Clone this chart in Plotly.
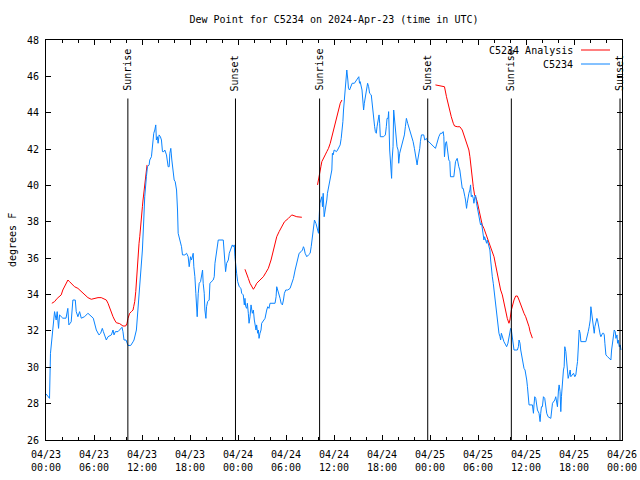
import datetime as dt
import plotly.graph_objects as go

# ---------------- data ----------------
START = "2024-04-23 00:00"

# C5234 observations: hours after START, dew point (deg F)
OBS_HOURS = [
    0.02, 0.44, 0.56, 0.73, 1.07, 1.27, 1.4, 1.57, 1.69, 2.1, 2.5, 2.73, 2.86, 3.15, 3.36, 3.66, 3.78, 3.99,
    4.2, 4.41, 4.82, 5.24, 5.66, 5.91, 6.29, 6.62, 6.83, 7.04, 7.17, 7.54, 7.75, 8.17, 8.38, 8.5, 8.67, 9.0,
    9.5, 9.62, 9.75, 10.0, 10.25, 10.59, 10.88, 11.0, 11.3, 11.51, 11.8, 12.05, 12.22, 12.34, 12.55, 12.68,
    12.89, 12.97, 13.18, 13.3, 13.47, 13.6, 13.72, 13.8, 13.93, 14.01, 14.14, 14.3, 14.43, 14.56, 14.73,
    14.85, 15.06, 15.27, 15.4, 15.48, 15.6, 15.73, 15.9, 16.02, 16.15, 16.32, 16.44, 16.52, 16.73, 16.94,
    17.06, 17.36, 17.57, 17.77, 17.9, 18.07, 18.19, 18.4, 18.48, 18.61, 18.73, 18.9, 19.03, 19.15, 19.32,
    19.44, 19.57, 19.65, 19.78, 19.86, 19.99, 20.07, 20.2, 20.4, 20.49, 20.9, 21.03, 21.12, 21.33, 21.53,
    22.16, 22.28, 22.37, 22.45, 22.58, 22.79, 22.91, 23.12, 23.29, 23.41, 23.53, 23.62, 23.7, 23.83, 23.96,
    24.16, 24.37, 24.46, 24.66, 24.79, 24.87, 24.96, 25.09, 25.17, 25.29, 25.38, 25.5, 25.63, 25.79, 25.92,
    26.04, 26.13, 26.25, 26.33, 26.46, 26.55, 26.63, 26.75, 26.88, 26.96, 27.17, 27.38, 27.59, 27.72, 27.88,
    28.0, 28.63, 28.76, 28.84, 28.97, 29.14, 29.26, 29.39, 29.55, 29.68, 29.8, 29.97, 30.22, 30.51, 30.72,
    30.93, 31.14, 31.35, 31.48, 31.64, 31.89, 32.06, 32.18, 32.27, 32.39, 32.6, 32.81, 33.02, 33.15, 33.31,
    33.43, 33.56, 33.75, 33.94, 34.06, 34.15, 34.23, 34.48, 34.56, 34.65, 34.77, 34.9, 34.98, 35.1, 35.18,
    35.31, 35.48, 35.6, 35.73, 35.8, 35.89, 36.02, 36.31, 36.44, 36.56, 36.77, 36.9, 37.02, 37.11, 37.19,
    37.32, 37.44, 37.52, 37.6, 37.73, 37.81, 37.94, 38.15, 38.27, 38.55, 38.85, 39.1, 39.19, 39.27, 39.5,
    39.58, 39.7, 39.79, 39.91, 40.04, 40.2, 40.33, 40.45, 40.66, 40.75, 40.88, 40.95, 41.08, 41.17, 41.29,
    41.38, 41.5, 41.63, 41.71, 41.79, 42.2, 42.42, 42.54, 42.63, 42.76, 42.83, 42.96, 43.05, 43.13, 43.2,
    43.26, 43.38, 43.46, 43.55, 43.67, 43.8, 43.88, 44.01, 44.09, 44.21, 44.3, 44.51, 44.63, 44.8, 44.92,
    45.05, 45.21, 45.34, 45.46, 45.55, 45.68, 45.8, 45.89, 46.05, 46.18, 46.3, 46.39, 46.47, 46.6, 46.72,
    46.8, 46.93, 47.22, 47.34, 47.56, 47.72, 47.84, 48.06, 48.27, 48.47, 48.68, 48.81, 48.97, 49.1, 49.31,
    49.52, 49.65, 49.73, 49.81, 49.94, 50.06, 50.23, 50.35, 50.48, 50.56, 50.98, 51.07, 51.19, 51.4, 51.49,
    51.6, 51.73, 51.82, 51.94, 52.03, 52.15, 52.23, 52.36, 52.44, 52.57, 52.65, 52.74, 52.86, 52.99, 53.07,
    53.16, 53.28, 53.41, 53.49, 53.61, 53.7, 53.82, 53.9, 53.99, 54.11, 54.24, 54.32, 54.45, 54.53, 54.66,
    54.74, 54.82, 54.95, 55.08, 55.16, 55.29, 55.37, 55.49, 55.58, 55.66, 55.79, 55.91, 56.0, 56.08, 56.2,
    56.33, 56.42, 56.5, 56.62, 56.75, 56.83, 56.92, 57.04, 57.24, 57.46, 57.58, 57.74, 57.87, 57.99, 58.08,
    58.17, 58.29, 58.42, 58.5, 58.92, 59.05, 59.13, 59.25, 59.34, 59.46, 59.59, 59.75, 59.88, 59.96, 60.09,
    60.18, 60.26, 60.38, 60.8, 60.93, 61.0, 61.09, 61.22, 61.34, 61.43, 61.63, 61.76, 61.84, 61.93, 62.05,
    62.18, 62.34, 62.47, 62.59, 62.76, 63.1, 63.31, 63.43, 63.6, 63.72, 63.85, 63.93, 64.06, 64.14, 64.26,
    64.35, 64.43, 64.56, 64.68, 64.77, 64.85, 64.98, 65.1, 65.19, 65.27, 65.39, 65.52, 65.6, 65.81, 65.94,
    66.1, 66.23, 66.35, 66.44, 66.52, 66.65, 66.77, 66.86, 67.48, 67.61, 67.69, 67.78, 67.9, 68.03, 68.11,
    68.2, 68.32, 68.45, 68.53, 68.61, 68.74, 68.86, 68.94, 69.03, 69.15, 69.28, 69.36, 69.57, 69.7, 69.78,
    69.86, 69.99, 70.2, 70.4, 70.61, 70.7, 70.82, 70.95, 71.03, 71.16, 71.24, 71.37, 71.45, 71.53, 71.66,
    71.78, 71.87,
]
OBS_VALUES = [
    28.53, 28.29, 30.77, 31.5, 33.06, 32.6, 33.06, 32.14, 32.88, 32.7, 32.7, 33.24, 32.33, 32.5, 33.7, 33.7, 33.06, 32.78,
    33.06, 32.7, 32.78, 32.97, 32.78, 32.7, 32.05, 31.78, 31.87, 32.14, 31.96, 31.5, 31.68, 31.78, 32.05, 31.78, 31.96, 31.96,
    32.2, 31.96, 31.5, 31.5, 31.2, 31.2, 31.4, 31.5, 32.05, 33.15, 34.8, 36.45, 38.1, 39.38, 40.48, 41.03,
    41.13, 41.4, 41.58, 42.32, 42.87, 43.05, 43.33, 42.5, 42.68, 42.32, 42.78, 42.68, 42.5, 41.86, 41.86,
    41.95, 41.68, 41.03, 41.03, 41.77, 42.04, 41.4, 40.85, 40.3, 40.21, 39.75, 38.65, 37.37, 37.0, 36.63,
    36.18, 36.18, 36.27, 36.08, 35.53, 36.08, 35.9, 36.27, 35.53, 34.98, 34.07, 32.78, 34.07, 34.62, 34.71,
    35.17, 35.35, 34.62, 34.07, 33.15, 32.69, 33.33, 33.61, 33.7, 34.62, 34.8, 34.98, 35.72, 36.27, 37.0,
    37.0, 36.27, 35.72, 35.26, 35.72, 35.9, 36.27, 36.54, 36.73, 36.63, 36.73, 36.08, 35.53, 35.17, 34.71,
    34.43, 34.34, 34.07, 33.98, 33.43, 33.79, 33.34, 33.24, 33.52, 32.97, 32.42, 32.78, 33.43, 32.97, 33.15,
    32.6, 32.23, 32.05, 32.33, 31.87, 32.05, 31.59, 31.87, 32.05, 32.42, 32.6, 32.69, 33.15, 33.33, 33.24,
    33.52, 33.52, 33.88, 34.43, 34.25, 33.88, 33.79, 33.52, 33.43, 33.7, 34.07, 34.25, 34.25, 34.34, 34.62,
    34.89, 35.35, 35.72, 36.08, 36.27, 36.36, 36.45, 36.63, 36.54, 36.27, 36.08, 36.18, 36.27, 36.63, 37.37,
    37.73, 38.1, 37.9, 37.55, 37.37, 38.28, 39.02, 39.38, 38.83, 39.57, 38.28, 38.65, 38.83, 39.2, 39.57,
    39.93, 40.39, 40.67, 40.85, 41.77, 41.68, 41.95, 41.86, 41.95, 42.04, 42.23, 42.59, 43.05, 43.51, 44.15,
    44.88, 45.43, 46.08, 46.35, 45.8, 45.34, 45.25, 45.43, 45.62, 45.62, 45.8, 45.98, 45.62, 45.71, 45.25,
    44.7, 44.15, 44.52, 44.88, 45.07, 45.62, 45.43, 45.07, 44.98, 44.52, 44.15, 43.6, 43.23, 42.96, 42.87,
    43.23, 43.69, 43.88, 43.42, 42.68, 42.68, 42.78, 43.23, 43.69, 43.69, 44.06, 41.95, 41.4, 40.94, 40.39,
    41.4, 42.13, 44.15, 43.69, 42.96, 42.5, 42.13, 41.95, 41.22, 41.77, 41.95, 42.23, 42.5, 42.78, 43.23,
    43.69, 43.42, 43.23, 42.96, 42.87, 42.59, 42.5, 42.41, 42.04, 41.58, 41.4, 41.13, 41.4, 41.68, 42.04,
    42.41, 42.78, 42.78, 42.5, 42.59, 42.41, 42.41, 42.32, 42.23, 42.13, 42.04, 42.23, 42.59, 42.68, 42.87,
    42.87, 42.96, 42.68, 41.58, 42.32, 42.41, 41.95, 41.4, 41.31, 40.48, 40.48, 41.03, 41.31, 41.49, 41.22,
    41.03, 40.85, 40.48, 40.12, 39.84, 39.84, 39.57, 39.38, 39.2, 38.74, 39.02, 39.38, 39.57, 39.75, 40.03,
    39.38, 39.47, 39.29, 39.02, 39.38, 39.47, 39.02, 38.83, 38.56, 38.28, 38.1, 37.83, 37.92, 37.55, 37.18,
    37.0, 37.18, 36.91, 36.82, 37.0, 36.73, 36.54, 36.45, 35.9, 35.35, 34.98, 34.62, 34.25, 33.88, 33.52,
    32.78, 32.42, 32.05, 31.87, 31.68, 31.5, 31.87, 31.68, 31.41, 31.23, 31.13, 31.32, 31.68, 31.87, 32.14,
    32.05, 31.59, 31.32, 30.95, 30.95, 31.13, 31.5, 31.32, 30.95, 30.58, 30.22, 29.94, 29.85, 29.48, 29.3,
    28.93, 28.38, 27.93, 27.93, 27.47, 27.93, 28.38, 28.29, 28.02, 27.65, 27.47, 27.01, 27.47, 27.83, 27.83,
    28.38, 28.29, 27.83, 27.47, 27.28, 27.19, 28.02, 28.11, 28.2, 28.38, 28.11, 27.83, 28.75, 29.03, 28.66,
    27.56, 28.38, 29.3, 29.85, 30.03, 31.13, 30.86, 30.22, 29.67, 29.39, 29.58, 29.85, 29.48, 29.58, 29.67,
    29.48, 29.58, 30.03, 30.31, 30.95, 32.05, 31.87, 31.41, 31.41, 31.59, 31.78, 31.96, 32.23, 32.6, 33.33,
    32.97, 32.42, 32.23, 31.87, 32.23, 32.6, 32.69, 32.6, 32.33, 31.96, 31.78, 31.68, 31.87, 31.87, 31.78,
    31.32, 30.68, 30.58, 30.49, 30.4, 30.95, 31.41, 31.87, 32.05, 31.96, 31.59, 31.78, 31.32, 31.5, 31.13,
    31.23, 30.95,
]

# C5234 Analysis: four separate runs (hours after START, deg F)
ANALYSIS_HOURS = [
    [0.73, 1.07, 1.4, 1.69, 1.9, 2.1, 2.32, 2.53, 2.74, 2.94, 3.15, 3.57, 3.99, 4.41, 4.82, 5.24, 5.66, 6.08,
     6.5, 6.91, 7.25, 7.54, 7.75, 7.96, 8.17, 8.38, 8.58, 8.79, 9.21, 9.62, 9.96, 10.13, 10.25, 10.46, 10.67,
     10.88, 10.96, 11.09, 11.22, 11.3, 11.38, 11.5, 11.63, 11.72, 11.8, 11.93, 12.05, 12.13, 12.22, 12.34,
     12.47, 12.55, 12.63],
    [24.87, 25.09, 25.29, 25.5, 25.71, 25.92, 26.13, 26.34, 26.75, 27.17, 27.47, 27.79, 28.13, 28.42, 28.63,
     28.84, 29.14, 29.47, 29.8, 30.3, 30.72, 31.35, 31.98],
    [33.94, 34.06, 34.19, 34.36, 34.48, 34.69, 34.9, 35.1, 35.31, 35.53, 35.73, 35.94, 36.15, 36.36, 36.56,
     36.78, 36.99],
    [48.68, 49.52, 49.81, 50.06, 50.23, 50.48, 50.66, 50.91, 51.07, 51.4, 51.73, 52.03, 52.23, 52.44, 52.65,
     52.86, 52.99, 53.07, 53.16, 53.28, 53.41, 53.57, 53.7, 53.9, 54.11, 54.32, 54.53, 54.74, 54.95, 55.16,
     55.37, 55.58, 55.79, 56.0, 56.2, 56.42, 56.62, 56.83, 57.04, 57.24, 57.46, 57.66, 57.87, 57.99, 58.17,
     58.29, 58.5, 58.71, 58.92, 59.13, 59.34, 59.55, 59.75, 59.96, 60.18, 60.38, 60.51, 60.8],
]
ANALYSIS_VALUES = [
    [33.52, 33.61, 33.79, 33.92, 33.98, 34.25, 34.43, 34.62, 34.8, 34.71, 34.62, 34.43, 34.34, 34.16, 33.98,
     33.83, 33.74, 33.79, 33.83, 33.83, 33.74, 33.7, 33.52, 33.24, 33.06, 32.78, 32.6, 32.45, 32.4, 32.27,
     32.27, 32.42, 32.69, 32.97, 33.06, 33.15, 33.33, 33.61, 34.16, 34.8, 35.35, 36.08, 36.82, 37.18, 37.73,
     38.28, 38.83, 39.2, 39.57, 40.12, 40.48, 40.94, 41.13],
    [35.39, 35.17, 34.89, 34.62, 34.43, 34.29, 34.43, 34.62, 34.8, 34.98, 35.2, 35.44, 35.9, 36.36, 36.82,
     37.18, 37.46, 37.73, 38.0, 38.19, 38.38, 38.28, 38.25],
    [40.03, 40.39, 40.67, 41.03, 41.31, 41.55, 41.68, 41.86, 42.04, 42.32, 42.65, 43.05, 43.42, 43.78, 44.15,
     44.52, 44.7],
    [45.53, 45.47, 45.43, 44.88, 44.52, 44.15, 43.78, 43.42, 43.27, 43.23, 43.23, 43.05, 42.78, 42.5, 42.32,
     41.95, 41.58, 41.22, 40.85, 40.48, 39.93, 39.48, 39.38, 39.11, 38.65, 38.19, 37.83, 37.64, 37.37, 37.18,
     36.91, 36.63, 36.36, 36.08, 35.63, 35.17, 34.62, 34.25, 33.98, 33.52, 33.15, 32.69, 32.42, 32.6, 33.15,
     33.43, 33.7, 33.92, 33.92, 33.7, 33.43, 33.24, 32.97, 32.78, 32.51, 32.23, 31.96, 31.6],
]

EVENT_NAMES = ["Sunrise", "Sunset", "Sunrise", "Sunset", "Sunrise", "Sunset"]
EVENT_TIMES = ["2024-04-23 10:14", "2024-04-23 23:41", "2024-04-24 10:12",
               "2024-04-24 23:43", "2024-04-25 10:10", "2024-04-25 23:45"]

TICK_TIMES = ["2024-04-23 00:00", "2024-04-23 06:00", "2024-04-23 12:00", "2024-04-23 18:00",
              "2024-04-24 00:00", "2024-04-24 06:00", "2024-04-24 12:00", "2024-04-24 18:00",
              "2024-04-25 00:00", "2024-04-25 06:00", "2024-04-25 12:00", "2024-04-25 18:00",
              "2024-04-26 00:00"]
TICK_LABELS = ["04/23<br>00:00", "04/23<br>06:00", "04/23<br>12:00", "04/23<br>18:00",
               "04/24<br>00:00", "04/24<br>06:00", "04/24<br>12:00", "04/24<br>18:00",
               "04/25<br>00:00", "04/25<br>06:00", "04/25<br>12:00", "04/25<br>18:00",
               "04/26<br>00:00"]

TITLE = "Dew Point for C5234 on 2024-Apr-23 (time in UTC)"
Y_LABEL = "degrees F"
NAME_ANALYSIS = "C5234 Analysis"
NAME_OBS = "C5234"

# ---------------- helpers ----------------
base = dt.datetime.strptime(START, "%Y-%m-%d %H:%M")


def to_time(h):
    return base + dt.timedelta(hours=h)


RED = "#ff0000"
BLUE = "#0a84ff"
FONT = "DejaVu Sans Mono"

# plotting-area margins in pixels
L, R, T, B = 46, 18, 40, 40
PW, PH = 640 - L - R, 480 - T - B


def px_x(px):
    return (px - L) / PW


def px_y(py):
    return (480 - B - py) / PH


ax_x, ax_y = [], []
for hs, vs in zip(ANALYSIS_HOURS, ANALYSIS_VALUES):
    ax_x += [to_time(h) for h in hs] + [None]
    ax_y += vs + [None]

fig = go.Figure()
fig.add_trace(go.Scatter(x=ax_x, y=ax_y, mode="lines", name=NAME_ANALYSIS,
                         line=dict(color=RED, width=1), connectgaps=False))
fig.add_trace(go.Scatter(x=[to_time(h) for h in OBS_HOURS], y=OBS_VALUES, mode="lines",
                         name=NAME_OBS, line=dict(color=BLUE, width=1, shape="linear")))

# Sunrise / Sunset markers
for name, t in zip(EVENT_NAMES, EVENT_TIMES):
    fig.add_shape(type="line", xref="x", yref="paper", x0=t, x1=t, y0=0, y1=px_y(98.5),
                  line=dict(color="black", width=1))
    fig.add_annotation(x=t, xref="x", y=px_y(93), yref="paper", text=name, showarrow=False,
                       textangle=-90, xanchor="center", yanchor="bottom",
                       font=dict(family=FONT, size=10, color="black"))

# hand-made legend (text first, then line sample, as in the original)
for i, (name, col) in enumerate([(NAME_ANALYSIS, RED), (NAME_OBS, BLUE)]):
    yy = 50 + i * 14
    fig.add_annotation(x=px_x(575), xref="paper", y=px_y(yy), yref="paper", text=name,
                       showarrow=False, xanchor="right", yanchor="middle",
                       font=dict(family=FONT, size=10, color="black"))
    fig.add_shape(type="line", xref="paper", yref="paper", x0=px_x(581), x1=px_x(610),
                  y0=px_y(yy), y1=px_y(yy), line=dict(color=col, width=1))

# y-axis label
fig.add_annotation(x=px_x(12), xref="paper", y=0.5, yref="paper", text=Y_LABEL, showarrow=False,
                   textangle=-90, xanchor="center", yanchor="middle",
                   font=dict(family=FONT, size=10, color="black"))

fig.update_layout(
    width=640, height=480,
    margin=dict(l=L, r=R, t=T, b=B, autoexpand=False),
    paper_bgcolor="white", plot_bgcolor="white",
    showlegend=False,
    font=dict(family=FONT, size=10, color="black"),
    title=dict(text=TITLE, x=0.5, xref="paper", xanchor="center",
               y=1 - 19 / 480, yref="container", yanchor="middle",
               font=dict(family=FONT, size=10, color="black")),
)
fig.update_xaxes(
    type="date", automargin=False,
    range=[TICK_TIMES[0], TICK_TIMES[-1]],
    tickmode="array", tickvals=TICK_TIMES, ticktext=TICK_LABELS,
    ticks="inside", ticklen=5, tickcolor="black", tickwidth=1,
    ticklabelstandoff=5,
    minor=dict(ticks="inside", dtick=2 * 3600 * 1000, tick0=TICK_TIMES[0], ticklen=3,
               tickcolor="black", showgrid=False),
    showline=True, linecolor="black", linewidth=1, mirror="allticks",
    showgrid=False, zeroline=False,
    tickfont=dict(family=FONT, size=10, color="black"),
)
fig.update_yaxes(
    automargin=False,
    range=[26, 48], dtick=2, tick0=26,
    ticks="inside", ticklen=5, tickcolor="black", tickwidth=1,
    ticklabelstandoff=4,
    showline=True, linecolor="black", linewidth=1, mirror="allticks",
    showgrid=False, zeroline=False,
    tickfont=dict(family=FONT, size=10, color="black"),
)

# remove the browser's default 8px page margin so the 640x480 figure fills the window
fig.write_html("out.html", config={"displayModeBar": False},
               post_script="document.body.style.margin='0';")
